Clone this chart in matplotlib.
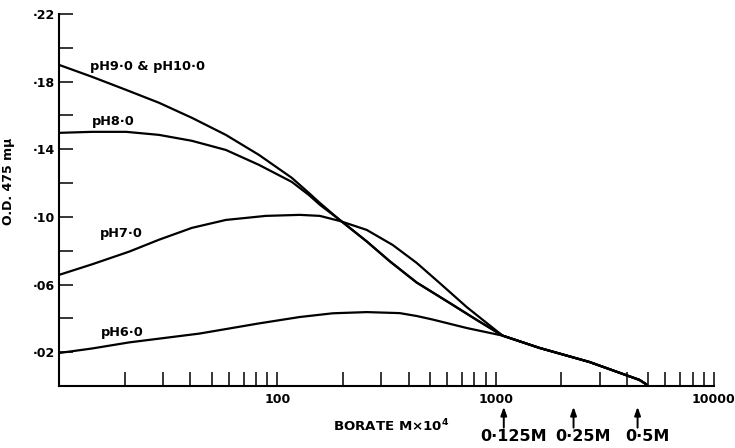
import matplotlib
matplotlib.use("Agg")
import matplotlib.pyplot as plt
import matplotlib.ticker as mticker
import matplotlib.transforms as mtrans

# borate concentration (M x 10^4) and O.D. at 475 mu
ph9_x = [10, 14.2, 20.3, 28.7, 40.6, 58.1, 82.3, 116.5, 139.4, 156.5, 193.2, 256.8, 327.2,
         434.8, 615.9, 818.6, 1076, 1590, 2690, 4560, 4900]
ph9_y = [0.1899, 0.1828, 0.1751, 0.1675, 0.1586, 0.1485, 0.1367, 0.1231, 0.1142, 0.1083, 0.0982,
         0.0855, 0.0738, 0.0612, 0.0491, 0.0391, 0.0298, 0.0225, 0.0142, 0.0036, 0.001]

ph8_x = [10, 14.2, 20.3, 28.7, 40.6, 58.1, 82.3, 116.5, 139.4, 156.5, 193.2, 256.8, 327.2,
         434.8, 615.9, 818.6, 1076, 1590, 2690, 4560, 4900]
ph8_y = [0.1497, 0.1503, 0.1503, 0.1485, 0.145, 0.1396, 0.1308, 0.1207, 0.113, 0.1072, 0.0982,
         0.0855, 0.0738, 0.0612, 0.0491, 0.0391, 0.0298, 0.0225, 0.0142, 0.0036, 0.001]

ph7_x = [10, 14.2, 21, 28.7, 40.6, 58.1, 88.6, 126.8, 156.5, 193.2, 256.8, 337.7, 434.8,
         554.2, 736.9, 909.5, 1076, 1590, 2690, 4560, 4900]
ph7_y = [0.0657, 0.072, 0.0795, 0.0865, 0.0935, 0.0982, 0.1006, 0.1012, 0.1006, 0.0976, 0.0923,
         0.0834, 0.0728, 0.0609, 0.0467, 0.0373, 0.0298, 0.0225, 0.0142, 0.0036, 0.001]

ph6_x = [10, 14.2, 21, 44, 82.3, 126.8, 179.5, 256.8, 363.6, 434.8, 514.7, 736.9, 1076, 1590,
         2690, 4560, 4900]
ph6_y = [0.0195, 0.0222, 0.0258, 0.031, 0.037, 0.0408, 0.0430, 0.0437, 0.0431, 0.0414, 0.0393,
         0.0343, 0.0298, 0.0225, 0.0142, 0.0036, 0.001]

curve_labels = ["pH9·0 & pH10·0", "pH8·0", "pH7·0", "pH6·0"]
label_pos = [(25.3, 0.1888), (17.7, 0.1562), (19.2, 0.0899), (19.4, 0.0314)]

yticks = [0.02, 0.06, 0.10, 0.14, 0.18, 0.22]
ytick_labels = ["·02", "·06", "·10", "·14", "·18", "·22"]
yminor = [0.04, 0.08, 0.12, 0.16, 0.20]
xticks = [100, 1000, 10000]
xtick_labels = ["100", "1000", "10000"]

# arrows under the axis for the molar concentrations
arrow_x = [1090, 2275, 4470]
arrow_labels = ["0·125M", "0·25M", "0·5M"]

plt.rcParams["font.family"] = ["DejaVu Sans"]
plt.rcParams["font.weight"] = "bold"

fig = plt.figure(figsize=(7.35, 4.48), dpi=100)
ax = fig.add_axes([0.0803, 0.1384, 0.891, 0.8304])

for xs, ys in [(ph9_x, ph9_y), (ph8_x, ph8_y), (ph7_x, ph7_y), (ph6_x, ph6_y)]:
    ax.plot(xs, ys, color="black", lw=1.6, solid_joinstyle="round", solid_capstyle="round")

for txt, (lx, ly) in zip(curve_labels, label_pos):
    ax.text(lx, ly, txt, ha="center", va="center", fontsize=9.3, fontweight="bold")

ax.set_xscale("log")
ax.set_xlim(10, 10000)
ax.set_ylim(0, 0.22)

ax.spines["top"].set_visible(False)
ax.spines["right"].set_visible(False)
for s in ["left", "bottom"]:
    ax.spines[s].set_linewidth(1.5)

ax.set_yticks(yticks)
ax.set_yticklabels(ytick_labels)
ax.yaxis.set_minor_locator(mticker.FixedLocator(yminor))
ax.set_xticks(xticks)
ax.set_xticklabels(xtick_labels)
ax.xaxis.set_minor_locator(mticker.LogLocator(base=10, subs=range(2, 10)))
ax.xaxis.set_minor_formatter(mticker.NullFormatter())
ax.tick_params(which="both", direction="in", length=10, width=1.1, labelsize=9, pad=3)
ax.tick_params(axis="x", which="both", pad=5)

fig.text(0.011, 0.596, "O.D. 475 mμ", rotation=90, ha="center", va="center", fontsize=9)
fig.text(0.532, 0.049, r"BORATE M×10$^{\mathbf{4}}$", ha="center", va="center", fontsize=9.6)

trans = mtrans.blended_transform_factory(ax.transData, ax.transAxes)
for xa, lab in zip(arrow_x, arrow_labels):
    ax.annotate("", xy=(xa, -0.056), xytext=(xa, -0.112), xycoords=trans, textcoords=trans,
                arrowprops=dict(arrowstyle="-|>,head_length=0.5,head_width=0.18", color="black",
                                lw=1.4, shrinkA=0, shrinkB=0),
                annotation_clip=False)
    ax.annotate(lab, xy=(xa, -0.137), xycoords=trans, xytext=(7, 0), textcoords="offset points",
                ha="center", va="center", fontsize=11.5, fontweight="bold", annotation_clip=False)

fig.savefig("out.png", dpi=100)
